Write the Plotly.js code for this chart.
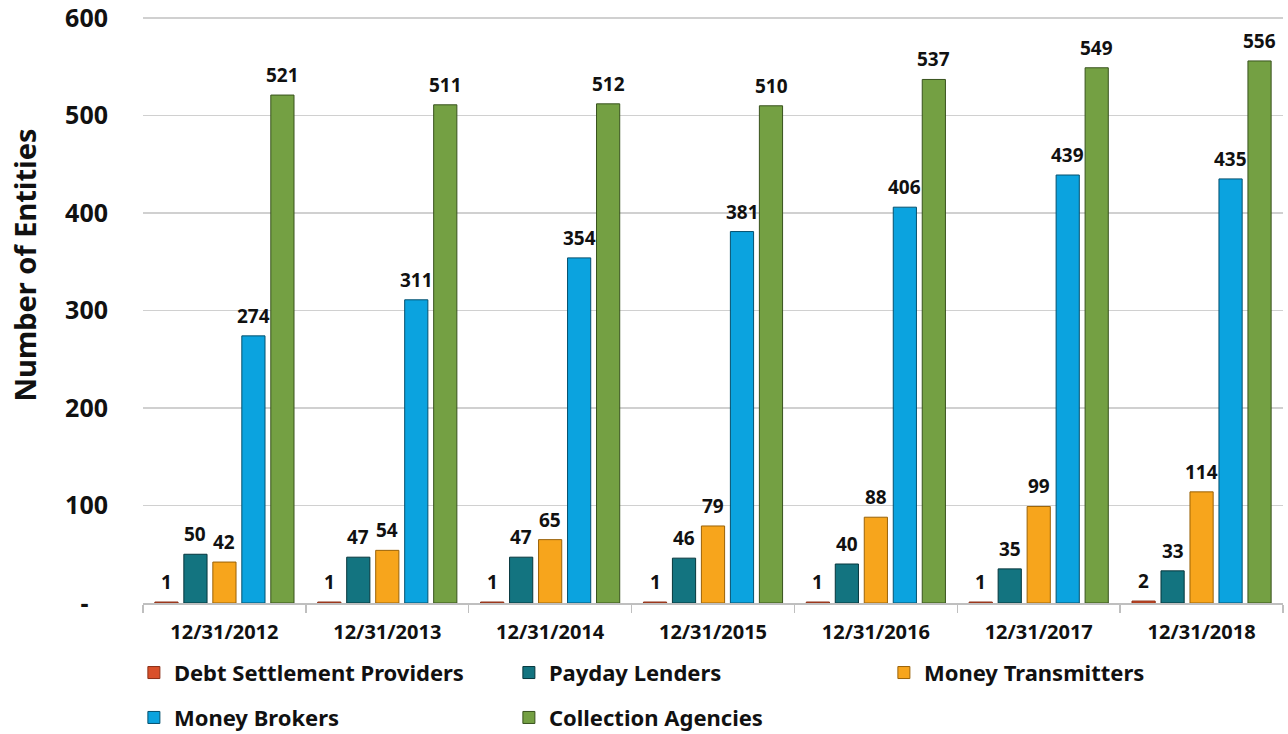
<!DOCTYPE html>
<html>
<head>
<meta charset="utf-8">
<script src="https://cdn.plot.ly/plotly-3.0.1.min.js"></script>
<style>
html,body{margin:0;padding:0;background:#fff;}
#chart{width:1288px;height:734px;}
</style>
</head>
<body>
<div id="chart"></div>
<script>
const categories = ["12/31/2012","12/31/2013","12/31/2014","12/31/2015","12/31/2016","12/31/2017","12/31/2018"];
const seriesNames = ["Debt Settlement Providers","Payday Lenders","Money Transmitters","Money Brokers","Collection Agencies"];
const debtSettlement = [1,1,1,1,1,1,2];
const paydayLenders = [50,47,47,46,40,35,33];
const moneyTransmitters = [42,54,65,79,88,99,114];
const moneyBrokers = [274,311,354,381,406,439,435];
const collectionAgencies = [521,511,512,510,537,549,556];
const yTickVals = [0,100,200,300,400,500,600];
const yTickText = ["-\u00a0\u00a0\u00a0","100","200","300","400","500","600"];
const yTitle = "Number of Entities";

const seriesValues = [debtSettlement, paydayLenders, moneyTransmitters, moneyBrokers, collectionAgencies];
const colors = ["#d9502a","#137480","#f7a51c","#0ba3df","#74a043"];
const edges = ["#8a2f16","#06363c","#9a6208","#05506e","#38521d"];
const legendIds = ["legend","legend","legend","legend2","legend2"];
const FONT = "Noto Sans, Open Sans, sans-serif";

const traces = seriesValues.map((vals, i) => ({
  type: "bar",
  name: seriesNames[i],
  x: categories,
  y: vals,
  legend: legendIds[i],
  marker: {color: colors[i], line: {color: edges[i], width: 1}},
  hoverinfo: "skip"
}));

const annotations = [];
const barStep = 29;
seriesValues.forEach((vals, i) => {
  vals.forEach((v, j) => {
    annotations.push({
      x: categories[j], y: v, xref: "x", yref: "y",
      text: String(v), showarrow: false,
      xshift: (i - 2) * barStep, yshift: 20,
      yanchor: "middle",
      font: {family: FONT, size: 19, color: "#111", weight: "bold"}
    });
  });
});
annotations.push({
  xref: "paper", yref: "paper", x: -0.1035, y: 0.571,
  xanchor: "center", yanchor: "middle", textangle: -90, showarrow: false,
  text: yTitle,
  font: {family: FONT, size: 29, color: "#111", weight: "bold"}
});

const legendFont = {family: FONT, size: 22, color: "#111", weight: "bold"};
const layout = {
  width: 1288, height: 734,
  margin: {l: 143, r: 5, t: 12, b: 131, autoexpand: false},
  paper_bgcolor: "#fff", plot_bgcolor: "#fff",
  font: {family: FONT, color: "#111"},
  barmode: "group",
  bargap: 0.11,
  bargroupgap: 0.2,
  showlegend: true,
  legend: {
    orientation: "h", x: -0.008, y: -0.118, xanchor: "left", yanchor: "middle",
    entrywidth: 330, entrywidthmode: "pixels",
    font: legendFont, itemwidth: 30, traceorder: "normal"
  },
  legend2: {
    orientation: "h", x: -0.008, y: -0.194, xanchor: "left", yanchor: "middle",
    entrywidth: 330, entrywidthmode: "pixels",
    font: legendFont, itemwidth: 30, traceorder: "normal"
  },
  xaxis: {
    type: "category",
    showline: true, linecolor: "#bfbfbf", linewidth: 1.5,
    ticks: "outside", tickson: "boundaries", ticklen: 8, tickcolor: "#bfbfbf", tickwidth: 1.5,
    tickfont: {family: FONT, size: 20, color: "#111", weight: "bold"},
    ticklabelstandoff: 10,
    showgrid: false, zeroline: false
  },
  yaxis: {
    range: [0, 606.2],
    tickvals: yTickVals, ticktext: yTickText,
    tickfont: {family: FONT, size: 25, color: "#111", weight: "bold"},
    ticklabeloverflow: "allow",
    showgrid: true, gridcolor: "#d0d0d0", gridwidth: 1.5,
    zeroline: false, showline: false, ticks: "",
    ticklabelstandoff: 34
  },
  annotations: annotations
};

Plotly.newPlot("chart", traces, layout, {displayModeBar: false, staticPlot: true});
</script>
</body>
</html>
